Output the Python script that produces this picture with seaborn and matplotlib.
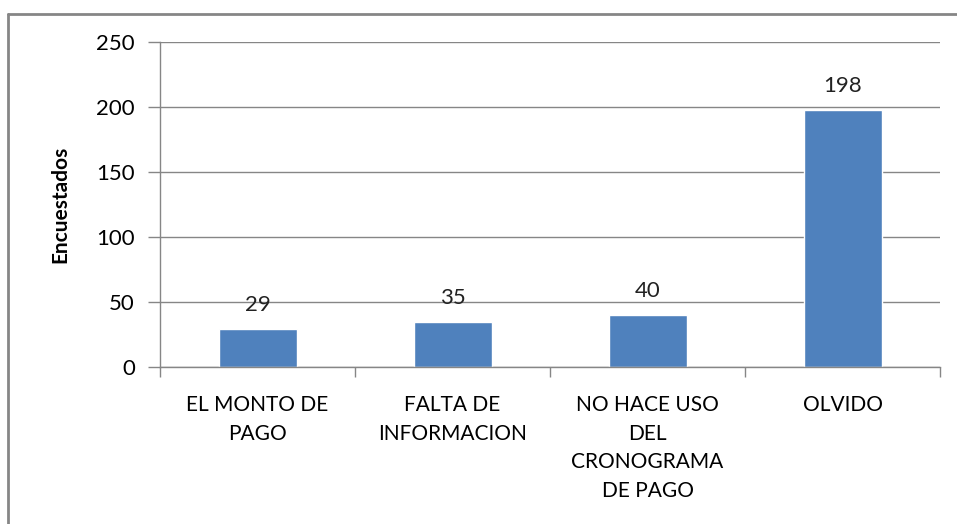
import matplotlib
matplotlib.use("Agg")
import matplotlib.pyplot as plt
import seaborn as sns
import pandas as pd
from matplotlib.lines import Line2D
from matplotlib.ticker import FixedLocator

categories = ["EL MONTO DE\nPAGO", "FALTA DE\nINFORMACION", "NO HACE USO\nDEL\nCRONOGRAMA\nDE PAGO", "OLVIDO"]
values = [29, 35, 40, 198]
yticks = [0, 50, 100, 150, 200, 250]
ylabel = "Encuestados"

sns.set_theme(style="white")
plt.rcParams['font.family'] = ['Lato', 'DejaVu Sans']

df = pd.DataFrame({"cat": categories, "val": values})

fig = plt.figure(figsize=(9.57, 5.24), dpi=100)
ax = fig.add_axes([160/957, 1-367/524, 780/957, 325/524])

sns.barplot(data=df, x="cat", y="val", color="#4F81BD", width=0.4, ax=ax, saturation=1)

ax.set_ylim(0, 250)
ax.set_xlim(-0.5, 3.5)
ax.set_yticks(yticks)
ax.yaxis.grid(True, color="#868686", linewidth=1)
ax.set_axisbelow(True)
for s in ["top", "right"]:
    ax.spines[s].set_visible(False)
for s in ["left", "bottom"]:
    ax.spines[s].set_color("#868686")
    ax.spines[s].set_linewidth(1)

ax.tick_params(axis="y", which="major", length=9, width=1, color="#868686", pad=9, labelsize=16, labelcolor="black", left=True)
ax.tick_params(axis="x", which="major", length=0, pad=20, labelsize=15, labelcolor="black")
ax.xaxis.set_minor_locator(FixedLocator([-0.5, 0.5, 1.5, 2.5, 3.5]))
ax.tick_params(axis="x", which="minor", length=7, width=1, color="#868686", bottom=True)
for lbl in ax.get_xticklabels():
    lbl.set_linespacing(1.55)
    lbl.set_verticalalignment("top")

ax.set_xlabel("")
ax.set_ylabel(ylabel, fontsize=15, fontweight="bold", color="black")
ax.yaxis.set_label_coords(-90/780, 0.5)

for c in ax.containers:
    ax.bar_label(c, labels=[str(v) for v in values], padding=10, fontsize=16, color="#222222")

# outer border (top and left only visible)
fig.add_artist(Line2D([8/957, 1], [1-14/524, 1-14/524], transform=fig.transFigure, color="#868686", linewidth=2))
fig.add_artist(Line2D([8/957, 8/957], [0, 1-14/524], transform=fig.transFigure, color="#868686", linewidth=2))

fig.savefig("out.png", dpi=100)
